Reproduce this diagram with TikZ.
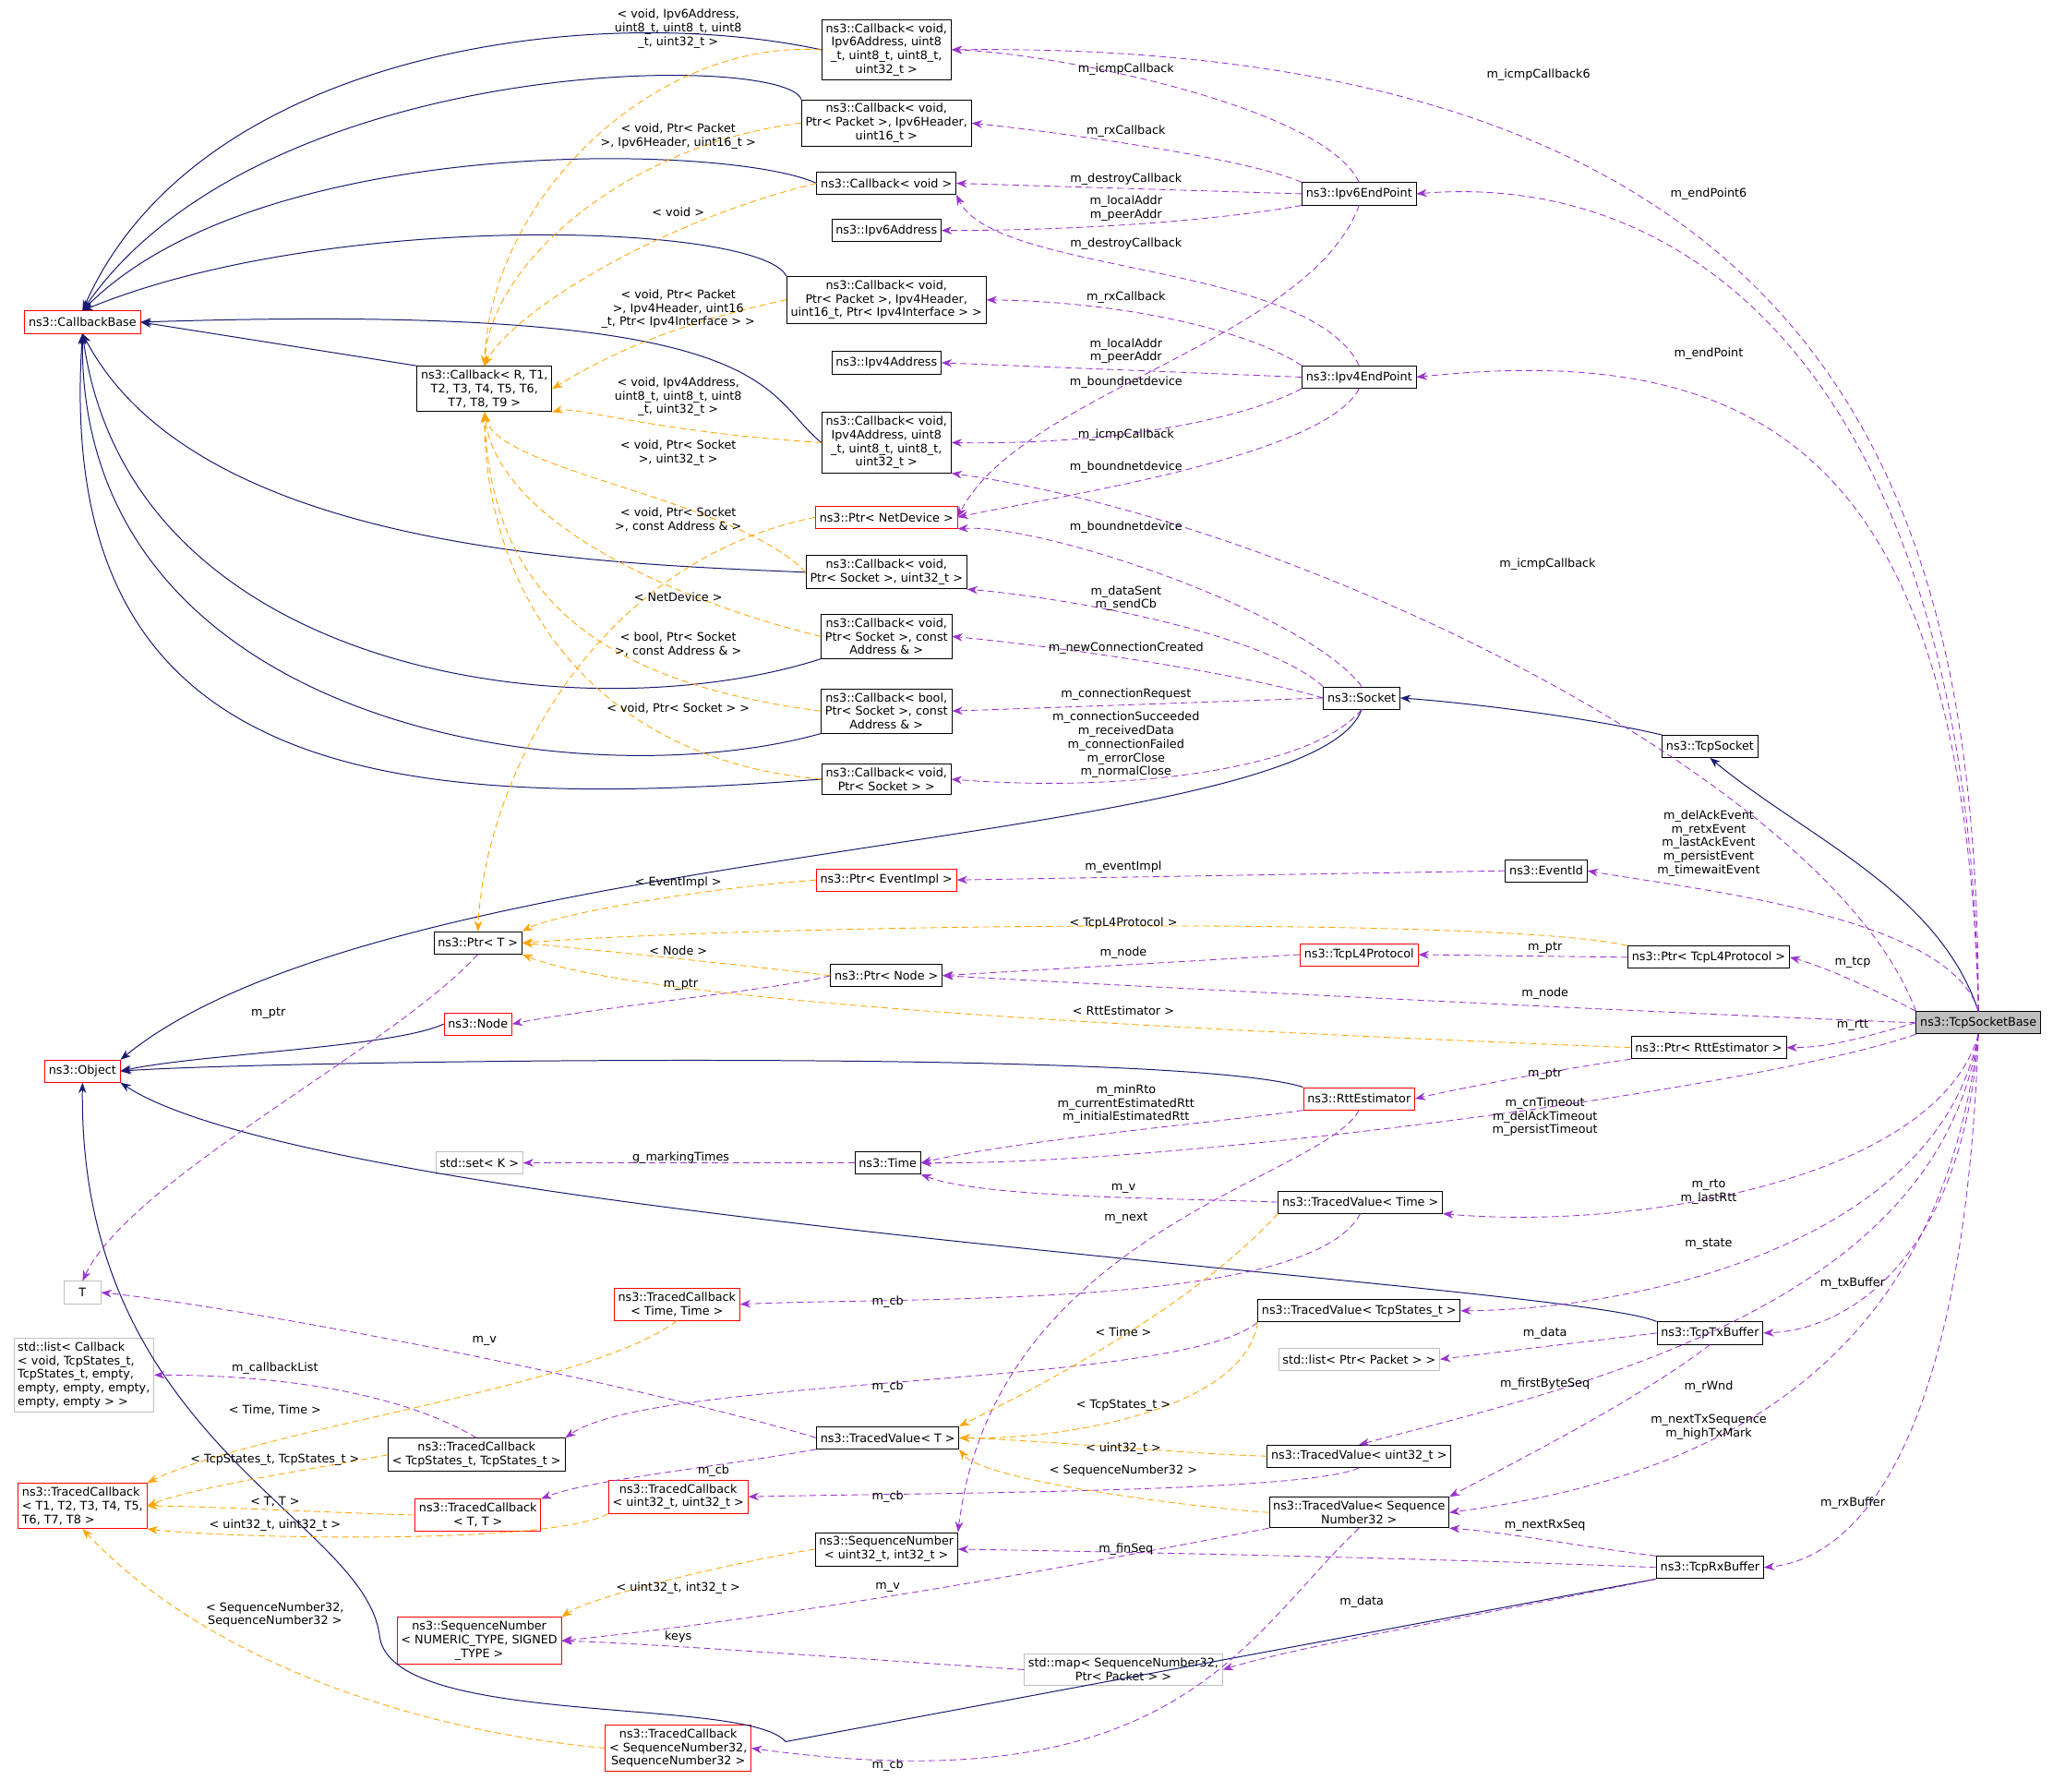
\documentclass[tikz,border=0pt]{standalone}
\usepackage{fontspec}
\setmainfont{DejaVu Sans}
\usetikzlibrary{arrows.meta}
\definecolor{purp}{HTML}{9A32CD}
\definecolor{navy}{HTML}{191970}
\definecolor{orng}{HTML}{FFA500}
\definecolor{gry}{HTML}{BFBFBF}
\begin{document}
\begin{tikzpicture}[x=1pt,y=-1pt,
 every node/.style={font=\fontsize{9}{10.4}\selectfont,align=center,inner sep=0pt},
 box/.style={draw=black,line width=0.6pt,fill=white,inner xsep=3pt,inner ysep=3pt,minimum height=17pt},
 rbox/.style={box,draw=red},
 gbox/.style={box,draw=gry},
 lbl/.style={},
 inh/.style={draw=navy,line width=0.7pt,-{Stealth[length=8pt,width=6pt]}},
 use/.style={draw=purp,line width=0.6pt,dash pattern=on 5pt off 3pt,-{Stealth[length=8pt,width=6pt]}},
 tpl/.style={draw=orng,line width=0.6pt,dash pattern=on 5pt off 3pt,-{Stealth[length=8pt,width=6pt]}}]
\useasboundingbox (0,0) rectangle (1568,1368);
\fill[white] (0,0) rectangle (1568,1368);
% nodes
\node[box] (cb6) at (677,38) {ns3::Callback< void,\\ Ipv6Address, uint8\\ \_t, uint8\_t, uint8\_t,\\ uint32\_t >};
\node[box] (cbrx6) at (677,94) {ns3::Callback< void,\\ Ptr< Packet >, Ipv6Header,\\ uint16\_t >};
\node[box] (cbvoid) at (677,140) {ns3::Callback< void >};
\node[box] (ipv6addr) at (677,176) {ns3::Ipv6Address};
\node[box] (cbrx4) at (677,229) {ns3::Callback< void,\\ Ptr< Packet >, Ipv4Header,\\ uint16\_t, Ptr< Ipv4Interface > >};
\node[box] (ipv4addr) at (677,277) {ns3::Ipv4Address};
\node[box] (cb4) at (677,338) {ns3::Callback< void,\\ Ipv4Address, uint8\\ \_t, uint8\_t, uint8\_t,\\ uint32\_t >};
\node[rbox] (ptrnd) at (677,395) {ns3::Ptr< NetDevice >};
\node[box] (cbsock) at (677,437) {ns3::Callback< void,\\ Ptr< Socket >, uint32\_t >};
\node[box] (cbaddr) at (677,486) {ns3::Callback< void,\\ Ptr< Socket >, const\\ Address \& >};
\node[box] (cbbool) at (677,543) {ns3::Callback< bool,\\ Ptr< Socket >, const\\ Address \& >};
\node[box] (cbss) at (677,595) {ns3::Callback< void,\\ Ptr< Socket > >};
\node[box] (ipv6ep) at (1038,148) {ns3::Ipv6EndPoint};
\node[box] (ipv4ep) at (1038,288) {ns3::Ipv4EndPoint};
\node[box] (socket) at (1040,533) {ns3::Socket};
\node[box] (tcpsocket) at (1306,570) {ns3::TcpSocket};
\node[rbox] (cbbase) at (63,246) {ns3::CallbackBase};
\node[box] (cbgen) at (370,297) {ns3::Callback< R, T1,\\ T2, T3, T4, T5, T6,\\ T7, T8, T9 >};
\node[box] (eventid) at (1181,665) {ns3::EventId};
\node[rbox] (ptrev) at (677,672) {ns3::Ptr< EventImpl >};
\node[box] (ptrT) at (365,720) {ns3::Ptr< T >};
\node[rbox] (tcpl4) at (1038,729) {ns3::TcpL4Protocol};
\node[box] (ptrl4) at (1305,731) {ns3::Ptr< TcpL4Protocol >};
\node[box] (ptrnode) at (677,745) {ns3::Ptr< Node >};
\node[rbox] (node) at (365,782) {ns3::Node};
\node[box,fill=gry] (tsb) at (1511,781) {ns3::TcpSocketBase};
\node[box] (ptrrtt) at (1305,800) {ns3::Ptr< RttEstimator >};
\node[rbox] (object) at (63,818) {ns3::Object};
\node[rbox] (rtt) at (1038,839) {ns3::RttEstimator};
\node[gbox] (stdset) at (366,888) {std::set< K >};
\node[box] (time) at (678,888) {ns3::Time};
\node[box] (tvtime) at (1039,918) {ns3::TracedValue< Time >};
\node[gbox,minimum width=28pt] (T) at (63,987) {T};
\node[rbox] (tcbtime) at (517,996) {ns3::TracedCallback\\ < Time, Time >};
\node[box] (tvstates) at (1038,1001) {ns3::TracedValue< TcpStates\_t >};
\node[box] (txbuf) at (1306,1018) {ns3::TcpTxBuffer};
\node[gbox] (stdlistpkt) at (1038,1038) {std::list< Ptr< Packet > >};
\node[gbox,align=left] (stdlistcb) at (64,1050) {std::list< Callback\\ < void, TcpStates\_t,\\ TcpStates\_t, empty,\\ empty, empty, empty,\\ empty, empty > >};
\node[box] (tcbstates) at (364,1111) {ns3::TracedCallback\\ < TcpStates\_t, TcpStates\_t >};
\node[box] (tvT) at (678,1098) {ns3::TracedValue< T >};
\node[box] (tvuint) at (1038,1112) {ns3::TracedValue< uint32\_t >};
\node[rbox,align=left] (tcbgen) at (63,1150) {ns3::TracedCallback\\ < T1, T2, T3, T4, T5,\\ T6, T7, T8 >};
\node[rbox] (tcbTT) at (365,1157) {ns3::TracedCallback\\ < T, T >};
\node[rbox] (tcbu) at (518,1143) {ns3::TracedCallback\\ < uint32\_t, uint32\_t >};
\node[box] (tvseq) at (1038,1155) {ns3::TracedValue< Sequence\\ Number32 >};
\node[box] (seqnum) at (677,1183) {ns3::SequenceNumber\\ < uint32\_t, int32\_t >};
\node[box] (rxbuf) at (1306,1197) {ns3::TcpRxBuffer};
\node[rbox] (seqgen) at (366,1253) {ns3::SequenceNumber\\ < NUMERIC\_TYPE, SIGNED\\ \_TYPE >};
\node[gbox] (stdmap) at (858,1275) {std::map< SequenceNumber32,\\ Ptr< Packet > >};
\node[rbox] (tcbseq) at (518,1335) {ns3::TracedCallback\\ < SequenceNumber32,\\ SequenceNumber32 >};
% inheritance
\draw[inh] (cb6.west) .. controls (450,0) and (150,40) .. (cbbase.north);
\draw[inh] (cbrx6.north west) .. controls (600,40) and (200,40) .. (cbbase.north);
\draw[inh] (cbvoid.west) .. controls (560,110) and (200,100) .. (cbbase.north);
\draw[inh] (cbrx4.north west) .. controls (580,170) and (250,160) .. (cbbase.north);
\draw[inh] (cbgen.north west) -- (cbbase.east);
\draw[inh] (cb4.west) .. controls (580,300) and (600,230) .. (cbbase.east);
\draw[inh] (cbsock.west) .. controls (450,430) and (150,420) .. (cbbase.south);
\draw[inh] (cbaddr.south west) .. controls (450,560) and (100,520) .. (cbbase.south);
\draw[inh] (cbbool.south west) .. controls (450,610) and (60,560) .. (cbbase.south);
\draw[inh] (cbss.west) .. controls (300,620) and (40,600) .. (cbbase.south);
\draw[inh] (socket.south) .. controls (1000,650) and (300,640) .. (object.north east);
\draw[inh] (node.west) .. controls (300,800) and (150,805) .. (object.east);
\draw[inh] (rtt.north west) .. controls (900,800) and (200,810) .. (object.east);
\draw[inh] (txbuf.north west) .. controls (1200,980) and (250,930) .. (object.south east);
\draw[inh] (rxbuf.south west) -- (600,1330) .. controls (570,1295) and (300,1320) .. (290,1250) .. controls (280,1160) and (60,1100) .. (object.south);
\draw[inh] (tcpsocket.north west) .. controls (1200,545) and (1100,535) .. (socket.east);
\draw[inh] (tsb.north) .. controls (1480,680) and (1380,640) .. (tcpsocket.south);
% usage
\draw[use] (tsb.north) .. controls (1511,400) and (1420,30) .. (cb6.east);
\draw[use] (ipv6ep.north) .. controls (1010,80) and (800,40) .. (cb6.east);
\draw[use] (ipv6ep.north west) .. controls (950,120) and (800,100) .. (cbrx6.east);
\draw[use] (ipv6ep.west) -- (cbvoid.east);
\draw[use] (ipv6ep.south west) .. controls (950,165) and (850,176) .. (ipv6addr.east);
\draw[use] (ipv4ep.north) .. controls (1000,200) and (760,210) .. (cbvoid.south east);
\draw[use] (ipv4ep.north west) .. controls (950,250) and (850,230) .. (cbrx4.east);
\draw[use] (ipv4ep.west) -- (ipv4addr.east);
\draw[use] (ipv4ep.south west) .. controls (950,320) and (850,340) .. (cb4.east);
\draw[use] (ipv6ep.south) .. controls (1000,260) and (780,300) .. (ptrnd.east);
\draw[use] (ipv4ep.south) .. controls (1010,350) and (800,380) .. (ptrnd.east);
\draw[use] (socket.north) .. controls (1000,470) and (800,400) .. (ptrnd.south east);
\draw[use] (socket.north west) .. controls (960,480) and (800,455) .. (cbsock.south east);
\draw[use] (socket.west) .. controls (950,515) and (820,495) .. (cbaddr.east);
\draw[use] (socket.west) -- (cbbool.east);
\draw[use] (socket.south) .. controls (1000,590) and (850,605) .. (cbss.east);
\draw[use] (tsb.north west) .. controls (1400,600) and (1000,400) .. (cb4.south east);
\draw[use] (tsb.north) .. controls (1505,300) and (1300,130) .. (ipv6ep.east);
\draw[use] (tsb.north) .. controls (1500,350) and (1350,260) .. (ipv4ep.east);
\draw[use] (tsb.north) .. controls (1490,700) and (1300,680) .. (eventid.east);
\draw[use] (eventid.west) -- (ptrev.east);
\draw[use] (tsb.north west) .. controls (1450,765) and (1400,740) .. (ptrl4.east);
\draw[use] (ptrl4.west) -- (tcpl4.east);
\draw[use] (tcpl4.west) -- (ptrnode.east);
\draw[use] (tsb.west) .. controls (1300,775) and (900,755) .. (ptrnode.east);
\draw[use] (ptrnode.west) .. controls (600,755) and (450,770) .. (node.east);
\draw[use] (ptrT.south) .. controls (300,800) and (100,900) .. (T.north);
\draw[use] (tsb.west) .. controls (1430,790) and (1400,800) .. (ptrrtt.east);
\draw[use] (ptrrtt.south west) .. controls (1200,815) and (1120,830) .. (rtt.east);
\draw[use] (rtt.south west) .. controls (950,855) and (780,870) .. (time.east);
\draw[use] (tsb.south west) .. controls (1350,830) and (900,890) .. (time.east);
\draw[use] (time.west) -- (stdset.east);
\draw[use] (tvtime.west) .. controls (900,915) and (750,915) .. (time.south east);
\draw[use] (tsb.south) .. controls (1480,900) and (1250,940) .. (tvtime.south east);
\draw[use] (rtt.south) .. controls (1010,900) and (760,940) .. (seqnum.north east);
\draw[use] (tvtime.south) .. controls (1000,1000) and (700,990) .. (tcbtime.east);
\draw[use] (tsb.south) .. controls (1480,950) and (1250,1000) .. (tvstates.east);
\draw[use] (tvT.west) .. controls (500,1060) and (200,1000) .. (T.east);
\draw[use] (tvstates.south west) .. controls (900,1060) and (500,1050) .. (tcbstates.north east);
\draw[use] (tcbstates.north) .. controls (300,1060) and (200,1050) .. (stdlistcb.east);
\draw[use] (tsb.south) .. controls (1500,950) and (1420,1015) .. (txbuf.east);
\draw[use] (txbuf.west) -- (stdlistpkt.east);
\draw[use] (txbuf.south) .. controls (1250,1070) and (1150,1120) .. (tvseq.north east);
\draw[use] (tsb.south) .. controls (1480,1000) and (1200,1060) .. (tvuint.north);
\draw[use] (tvT.south west) .. controls (550,1120) and (450,1130) .. (tcbTT.north east);
\draw[use] (tvuint.south) .. controls (1000,1140) and (700,1140) .. (tcbu.east);
\draw[use] (tsb.south) .. controls (1480,1050) and (1300,1130) .. (tvseq.east);
\draw[use] (tsb.south) .. controls (1500,1100) and (1420,1190) .. (rxbuf.east);
\draw[use] (rxbuf.north west) .. controls (1200,1180) and (1150,1170) .. (tvseq.south east);
\draw[use] (rxbuf.west) .. controls (1100,1190) and (850,1185) .. (seqnum.east);
\draw[use] (tvseq.south west) .. controls (800,1200) and (600,1235) .. (seqgen.east);
\draw[use] (rxbuf.south west) .. controls (1150,1230) and (1000,1255) .. (stdmap.east);
\draw[use] (stdmap.west) .. controls (700,1270) and (500,1255) .. (seqgen.east);
\draw[use] (tvseq.south) .. controls (950,1250) and (900,1380) .. (tcbseq.east);
% template
\draw[tpl] (cb6.west) .. controls (500,30) and (375,150) .. (cbgen.north);
\draw[tpl] (cbrx6.west) .. controls (480,110) and (375,200) .. (cbgen.north);
\draw[tpl] (cbvoid.west) .. controls (500,170) and (390,240) .. (cbgen.north);
\draw[tpl] (cbrx4.west) .. controls (500,250) and (450,280) .. (cbgen.east);
\draw[tpl] (cb4.west) .. controls (500,330) and (440,310) .. (cbgen.south east);
\draw[tpl] (cbsock.west) .. controls (560,380) and (380,360) .. (cbgen.south);
\draw[tpl] (cbaddr.west) .. controls (520,460) and (380,400) .. (cbgen.south);
\draw[tpl] (cbbool.west) .. controls (450,520) and (375,450) .. (cbgen.south);
\draw[tpl] (cbss.west) .. controls (450,580) and (370,450) .. (cbgen.south);
\draw[tpl] (ptrnd.west) .. controls (450,430) and (370,600) .. (ptrT.north);
\draw[tpl] (ptrev.west) .. controls (520,680) and (420,700) .. (ptrT.north east);
\draw[tpl] (ptrl4.north west) .. controls (1150,700) and (600,705) .. (ptrT.east);
\draw[tpl] (ptrnode.west) .. controls (550,735) and (450,725) .. (ptrT.east);
\draw[tpl] (ptrrtt.west) .. controls (1000,790) and (500,770) .. (ptrT.south east);
\draw[tpl] (tvtime.south west) .. controls (900,1010) and (750,1080) .. (tvT.north east);
\draw[tpl] (tvstates.south west) .. controls (950,1080) and (800,1100) .. (tvT.east);
\draw[tpl] (tvuint.west) .. controls (900,1110) and (800,1100) .. (tvT.east);
\draw[tpl] (tvseq.west) .. controls (900,1150) and (750,1130) .. (tvT.south east);
\draw[tpl] (tcbtime.south) .. controls (450,1060) and (200,1090) .. (tcbgen.north east);
\draw[tpl] (tcbstates.west) .. controls (250,1120) and (150,1135) .. (tcbgen.east);
\draw[tpl] (tcbTT.west) .. controls (250,1155) and (150,1150) .. (tcbgen.east);
\draw[tpl] (tcbu.south west) .. controls (420,1180) and (180,1175) .. (tcbgen.south east);
\draw[tpl] (seqnum.west) .. controls (550,1195) and (450,1220) .. (seqgen.north east);
\draw[tpl] (tcbseq.west) .. controls (300,1320) and (150,1260) .. (tcbgen.south);
% labels
\node[lbl] (l1) at (1175,57) {m\_icmpCallback6};
\node[lbl] (l2) at (860,53) {m\_icmpCallback};
\node[lbl] (l3) at (860,100) {m\_rxCallback};
\node[lbl] (l4) at (860,137) {m\_destroyCallback};
\node[lbl] (l5) at (860,159) {m\_localAddr\\m\_peerAddr};
\node[lbl] (l6) at (860,186) {m\_destroyCallback};
\node[lbl] (l7) at (860,227) {m\_rxCallback};
\node[lbl] (l8) at (860,268) {m\_localAddr\\m\_peerAddr};
\node[lbl] (l9) at (860,332) {m\_icmpCallback};
\node[lbl] (l10) at (860,292) {m\_boundnetdevice};
\node[lbl] (l11) at (860,357) {m\_boundnetdevice};
\node[lbl] (l12) at (860,403) {m\_boundnetdevice};
\node[lbl] (l13) at (860,457) {m\_dataSent\\m\_sendCb};
\node[lbl] (l14) at (860,495) {m\_newConnectionCreated};
\node[lbl] (l15) at (860,530) {m\_connectionRequest};
\node[lbl] (l16) at (860,569) {m\_connectionSucceeded\\m\_receivedData\\m\_connectionFailed\\m\_errorClose\\m\_normalClose};
\node[lbl] (l17) at (1182,431) {m\_icmpCallback};
\node[lbl] (l18) at (1305,148) {m\_endPoint6};
\node[lbl] (l19) at (1305,270) {m\_endPoint};
\node[lbl] (l20) at (1305,644) {m\_delAckEvent\\m\_retxEvent\\m\_lastAckEvent\\m\_persistEvent\\m\_timewaitEvent};
\node[lbl] (l21) at (858,662) {m\_eventImpl};
\node[lbl] (l22) at (1415,735) {m\_tcp};
\node[lbl] (l23) at (1180,724) {m\_ptr};
\node[lbl] (l24) at (858,728) {m\_node};
\node[lbl] (l25) at (1180,759) {m\_node};
\node[lbl] (l26) at (520,752) {m\_ptr};
\node[lbl] (l27) at (205,774) {m\_ptr};
\node[lbl] (l28) at (1415,783) {m\_rtt};
\node[lbl] (l29) at (1180,820) {m\_ptr};
\node[lbl] (l30) at (860,843) {m\_minRto\\m\_currentEstimatedRtt\\m\_initialEstimatedRtt};
\node[lbl] (l31) at (1180,853) {m\_cnTimeout\\m\_delAckTimeout\\m\_persistTimeout};
\node[lbl] (l32) at (520,884) {g\_markingTimes};
\node[lbl] (l33) at (858,908) {m\_v};
\node[lbl] (l34) at (1305,910) {m\_rto\\m\_lastRtt};
\node[lbl] (l35) at (860,930) {m\_next};
\node[lbl] (l36) at (678,994) {m\_cb};
\node[lbl] (l37) at (1305,950) {m\_state};
\node[lbl] (l38) at (370,1024) {m\_v};
\node[lbl] (l39) at (678,1059) {m\_cb};
\node[lbl] (l40) at (210,1045) {m\_callbackList};
\node[lbl] (l41) at (1415,980) {m\_txBuffer};
\node[lbl] (l42) at (1180,1018) {m\_data};
\node[lbl] (l43) at (1180,1057) {m\_firstByteSeq};
\node[lbl] (l44) at (1305,1059) {m\_rWnd};
\node[lbl] (l45) at (545,1123) {m\_cb};
\node[lbl] (l46) at (678,1143) {m\_cb};
\node[lbl] (l47) at (1305,1090) {m\_nextTxSequence\\m\_highTxMark};
\node[lbl] (l48) at (1415,1148) {m\_rxBuffer};
\node[lbl] (l49) at (1180,1165) {m\_nextRxSeq};
\node[lbl] (l50) at (860,1183) {m\_finSeq};
\node[lbl] (l51) at (678,1212) {m\_v};
\node[lbl] (l52) at (1040,1223) {m\_data};
\node[lbl] (l53) at (518,1250) {keys};
\node[lbl] (l54) at (678,1348) {m\_cb};
\node[lbl] (t1) at (518,22) {< void, Ipv6Address,\\uint8\_t, uint8\_t, uint8\\\_t, uint32\_t >};
\node[lbl] (t2) at (518,104) {< void, Ptr< Packet\\>, Ipv6Header, uint16\_t >};
\node[lbl] (t3) at (518,162) {< void >};
\node[lbl] (t4) at (518,236) {< void, Ptr< Packet\\>, Ipv4Header, uint16\\\_t, Ptr< Ipv4Interface > >};
\node[lbl] (t5) at (518,303) {< void, Ipv4Address,\\uint8\_t, uint8\_t, uint8\\\_t, uint32\_t >};
\node[lbl] (t6) at (518,346) {< void, Ptr< Socket\\>, uint32\_t >};
\node[lbl] (t7) at (518,397) {< void, Ptr< Socket\\>, const Address \& >};
\node[lbl] (t8) at (518,492) {< bool, Ptr< Socket\\>, const Address \& >};
\node[lbl] (t9) at (518,541) {< void, Ptr< Socket > >};
\node[lbl] (t10) at (518,456) {< NetDevice >};
\node[lbl] (t11) at (518,674) {< EventImpl >};
\node[lbl] (t12) at (858,705) {< TcpL4Protocol >};
\node[lbl] (t13) at (518,726) {< Node >};
\node[lbl] (t14) at (858,772) {< RttEstimator >};
\node[lbl] (t15) at (858,1017) {< Time >};
\node[lbl] (t16) at (858,1073) {< TcpStates\_t >};
\node[lbl] (t17) at (858,1106) {< uint32\_t >};
\node[lbl] (t18) at (858,1123) {< SequenceNumber32 >};
\node[lbl] (t19) at (210,1077) {< Time, Time >};
\node[lbl] (t20) at (210,1115) {< TcpStates\_t, TcpStates\_t >};
\node[lbl] (t21) at (210,1147) {< T, T >};
\node[lbl] (t22) at (210,1165) {< uint32\_t, uint32\_t >};
\node[lbl] (t23) at (518,1213) {< uint32\_t, int32\_t >};
\node[lbl] (t24) at (210,1233) {< SequenceNumber32,\\SequenceNumber32 >};
\end{tikzpicture}
\end{document}
